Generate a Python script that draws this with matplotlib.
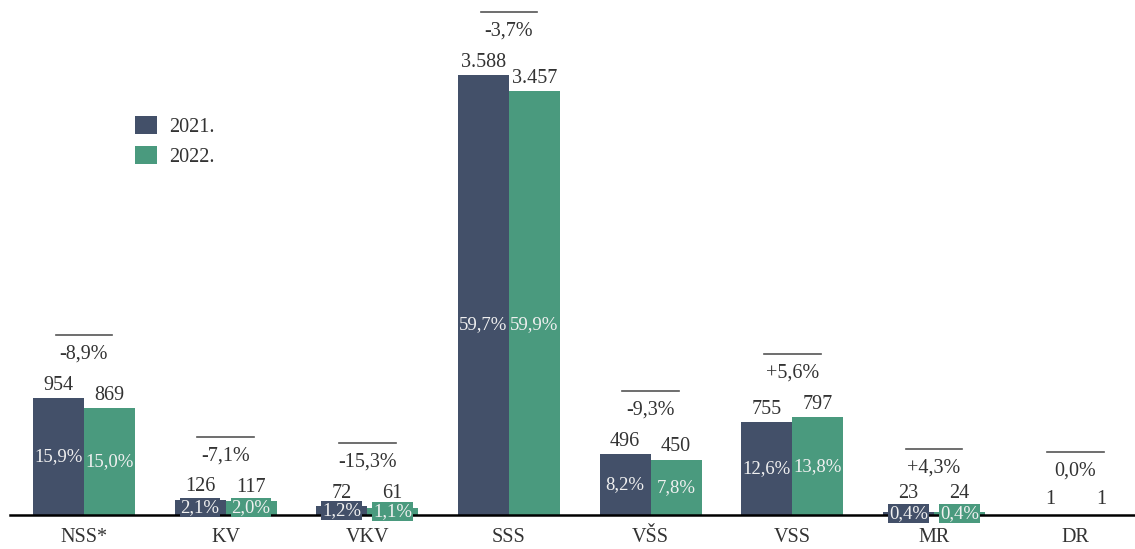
import numpy as np
import matplotlib
matplotlib.use("Agg")
import matplotlib.pyplot as plt

# Education levels
categories = ["NSS*", "KV", "VKV", "SSS", "VŠS", "VSS", "MR", "DR"]
# Counts per year
v2021 = [954, 126, 72, 3588, 496, 755, 23, 1]
v2022 = [869, 117, 61, 3457, 450, 797, 24, 1]
# Shares of total
p2021 = ["15,9%", "2,1%", "1,2%", "59,7%", "8,2%", "12,6%", "0,4%", ""]
p2022 = ["15,0%", "2,0%", "1,1%", "59,9%", "7,8%", "13,8%", "0,4%", ""]
# Year-on-year change
change = ["-8,9%", "-7,1%", "-15,3%", "-3,7%", "-9,3%", "+5,6%", "+4,3%", "0,0%"]

C21 = "#435069"
C22 = "#4a9a7e"
TXT = "#333333"
FS = 14.5


def fmt(v):
    return f"{v:,}".replace(",", ".")


def main():
    plt.rcParams["font.family"] = ["Liberation Serif", "DejaVu Serif"]

    fig = plt.figure(figsize=(11.35, 5.49), dpi=100)
    ax = fig.add_axes([0.009, 34 / 549, 0.991, 515 / 549])

    x = np.arange(len(categories))
    w = 0.36
    b1 = ax.bar(x - w / 2, v2021, w, color=C21, label="2021.", zorder=2)
    b2 = ax.bar(x + w / 2, v2022, w, color=C22, label="2022.", zorder=2)

    # px -> data units (515 px = 4200 units)
    u = 4200 / 515

    for i in range(len(categories)):
        for bar, val, pct, col in ((b1[i], v2021[i], p2021[i], C21),
                                   (b2[i], v2022[i], p2022[i], C22)):
            cx = bar.get_x() + bar.get_width() / 2
            h = bar.get_height()
            if pct:
                ly = max(h, 8 * u) + 13 * u
                ymid = max(min(h / 2, 1550), 1.5 * u)
                ax.text(cx, ymid, pct, ha="center", va="center",
                        fontsize=13.5, color="#f0f0f0", zorder=4,
                        bbox=dict(boxstyle="square,pad=0.05", fc=col,
                                  ec="none"))
            else:
                ly = h + 15 * u
            ax.text(cx, ly, fmt(val), ha="center", va="center",
                    fontsize=FS, color=TXT, zorder=4)
        top = max(v2021[i], v2022[i])
        ax.text(x[i], top + 44 * u, change[i], ha="center", va="center",
                fontsize=FS, color=TXT)
        ax.plot([x[i] - 0.2, x[i] + 0.2], [top + 63 * u] * 2,
                color="#555555", lw=1.2)

    ax.set_xlim(-0.52, 7.42)
    ax.set_ylim(0, 4200)
    ax.set_yticks([])
    ax.set_xticks(x)
    ax.set_xticklabels(categories, fontsize=FS, color=TXT)
    ax.tick_params(axis="x", length=0, pad=9)
    for s in ("top", "right", "left"):
        ax.spines[s].set_visible(False)
    ax.spines["bottom"].set_linewidth(1.8)
    ax.spines["bottom"].set_zorder(3)

    ax.legend(loc="upper left", bbox_to_anchor=(0.095, 0.81), frameon=False,
              fontsize=FS, handlelength=1.1, handleheight=1.0,
              labelspacing=0.45, handletextpad=0.6, labelcolor=TXT)

    fig.savefig("out.png", dpi=100)


if __name__ == "__main__":
    main()
